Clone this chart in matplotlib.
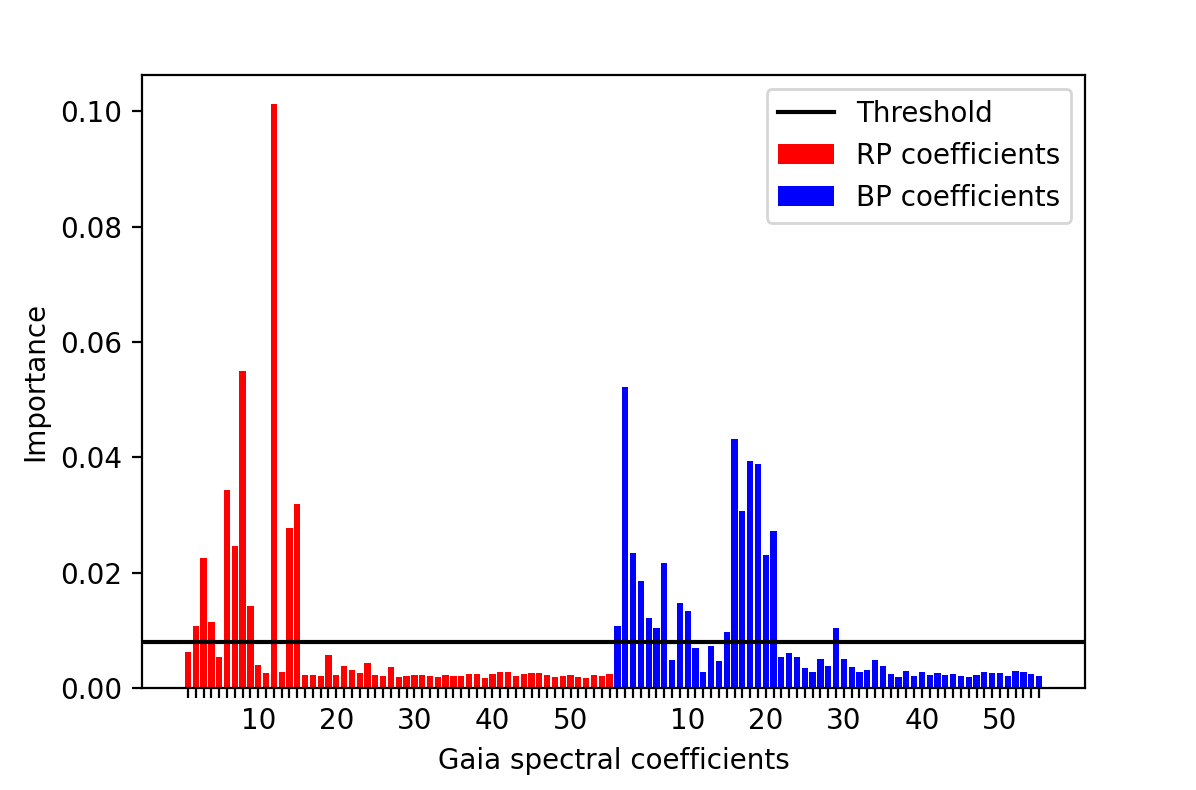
import numpy as np
import matplotlib
matplotlib.use('Agg')
import matplotlib.pyplot as plt

# importance of the RP coefficients (1..55)
rp_importance = [
    0.0063, 0.0108, 0.0225, 0.0115, 0.0054, 0.0344, 0.0247, 0.0550, 0.0142, 0.0040,
    0.0026, 0.1012, 0.0027, 0.0277, 0.0319, 0.0023, 0.0023, 0.0020, 0.0057, 0.0023,
    0.0039, 0.0031, 0.0026, 0.0043, 0.0023, 0.0021, 0.0036, 0.0019, 0.0021, 0.0023,
    0.0023, 0.0021, 0.0019, 0.0023, 0.0021, 0.0021, 0.0024, 0.0024, 0.0017, 0.0024,
    0.0028, 0.0028, 0.0021, 0.0024, 0.0026, 0.0026, 0.0023, 0.0019, 0.0021, 0.0023,
    0.0019, 0.0017, 0.0023, 0.0021, 0.0024,
]

# importance of the BP coefficients (1..55)
bp_importance = [
    0.0108, 0.0521, 0.0234, 0.0185, 0.0122, 0.0104, 0.0217, 0.0048, 0.0148, 0.0134,
    0.0069, 0.0027, 0.0072, 0.0046, 0.0097, 0.0432, 0.0307, 0.0393, 0.0388, 0.0231,
    0.0273, 0.0053, 0.0060, 0.0053, 0.0034, 0.0027, 0.0050, 0.0039, 0.0104, 0.0051,
    0.0036, 0.0028, 0.0031, 0.0049, 0.0038, 0.0024, 0.0019, 0.0030, 0.0021, 0.0028,
    0.0023, 0.0026, 0.0023, 0.0024, 0.0021, 0.0019, 0.0023, 0.0028, 0.0026, 0.0026,
    0.0021, 0.0030, 0.0028, 0.0024, 0.0021,
]

threshold = 0.008
n_coef = len(rp_importance)

rp_pos = np.arange(1, n_coef + 1)
bp_pos = np.arange(n_coef + 1, 2 * n_coef + 1)

# labels: every 10th coefficient of each block
tick_labels = [str(i) if i % 10 == 0 else '' for i in range(1, n_coef + 1)] * 2

fig, ax = plt.subplots(figsize=(5.98, 3.95), dpi=200)
fig.subplots_adjust(left=0.1187, right=0.9072, bottom=0.1291, top=0.905)

ax.axhline(y=threshold, color='black', linewidth=1.5, label='Threshold')
ax.bar(rp_pos, rp_importance, color='red', label='RP coefficients')
ax.bar(bp_pos, bp_importance, color='blue', label='BP coefficients')

ax.set_xticks(np.concatenate([rp_pos, bp_pos]))
ax.set_xticklabels(tick_labels)
ax.set_xlabel('Gaia spectral coefficients')
ax.set_ylabel('Importance')
ax.legend(loc='upper right')

fig.savefig('out.png', dpi=200)
